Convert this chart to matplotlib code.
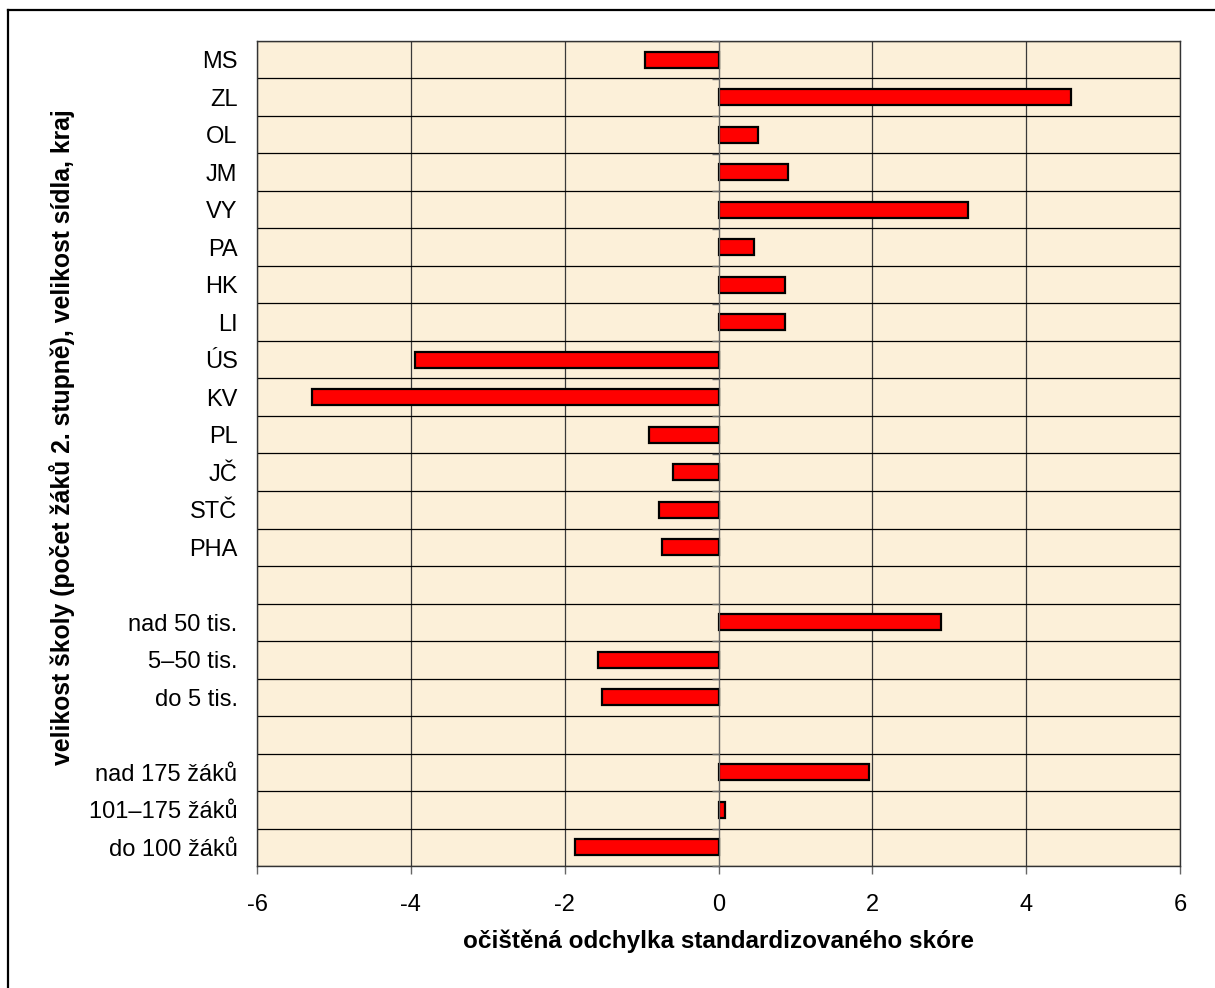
import numpy as np
import matplotlib
matplotlib.use("Agg")
import matplotlib.pyplot as plt
from matplotlib.lines import Line2D

plt.rcParams['font.family'] = ['Liberation Sans', 'DejaVu Sans']

# kraje
kraje = ['MS', 'ZL', 'OL', 'JM', 'VY', 'PA', 'HK', 'LI', 'ÚS', 'KV', 'PL', 'JČ', 'STČ', 'PHA']
kraje_val = [-0.95, 4.58, 0.52, 0.91, 3.25, 0.46, 0.87, 0.87, -3.95, -5.28, -0.91, -0.59, -0.78, -0.74]

# velikost sídla
sidla = ['nad 50 tis.', '5–50 tis.', 'do 5 tis.']
sidla_val = [2.89, -1.57, -1.51]

# velikost školy
skoly = ['nad 175 žáků', '101–175 žáků', 'do 100 žáků']
skoly_val = [1.96, 0.09, -1.87]

xticks = [-6, -4, -2, 0, 2, 4, 6]

# skupiny oddělené prázdným řádkem
labels = kraje + [''] + sidla + [''] + skoly
values = kraje_val + [np.nan] + sidla_val + [np.nan] + skoly_val
pos = np.arange(len(labels))

fig = plt.figure(figsize=(12.15, 9.88), dpi=100)
ax = fig.add_axes([257 / 1215, 1 - 866 / 988, 923 / 1215, 825 / 988])
ax.set_facecolor('#fcf0d9')

ax.barh(pos, values, height=0.42, color='#ff0000', edgecolor='black', linewidth=1.6, zorder=3)

ax.set_xlim(-6, 6)
ax.set_ylim(len(labels) - 0.5, -0.5)
ax.set_xticks(xticks)
ax.set_xticklabels([str(t) for t in xticks])
ax.set_yticks(pos)
ax.set_yticklabels(labels)
ax.set_yticks(np.arange(len(labels) + 1) - 0.5, minor=True)

ax.tick_params(axis='x', length=6, width=1, color='#666666', labelsize=17, pad=14)
ax.tick_params(axis='y', which='both', length=0, labelsize=17, pad=14)
ax.grid(True, axis='x', which='major', color='#3a3a3a', linewidth=0.9)
ax.grid(True, axis='y', which='minor', color='black', linewidth=0.9)
ax.set_axisbelow(True)
for s in ax.spines.values():
    s.set_color('#333333')
    s.set_linewidth(1.0)

# svislá osa v nule s čárkami na hranicích řádků
ax2 = ax.twinx()
ax2.set_ylim(ax.get_ylim())
ax2.yaxis.tick_left()
ax2.spines['left'].set_position(('data', 0))
ax2.spines['left'].set_color('#666666')
for side in ['right', 'top', 'bottom']:
    ax2.spines[side].set_visible(False)
ax2.set_yticks(np.arange(len(labels) + 1) - 0.5)
ax2.set_yticklabels([])
ax2.tick_params(axis='y', length=5, width=1, color='#666666')

ax.set_xlabel('očištěná odchylka standardizovaného skóre', fontsize=17.5,
              fontweight='bold', labelpad=10)
fig.text(62 / 1215, 1 - 437 / 988, 'velikost školy (počet žáků 2. stupně), velikost sídla, kraj',
         rotation=90, ha='center', va='center', fontsize=17.8, fontweight='bold')

# rámeček kolem grafu
fig.add_artist(Line2D([8 / 1215, 8 / 1215], [0, 1 - 10 / 988], color='black', linewidth=1.6))
fig.add_artist(Line2D([8 / 1215, 1], [1 - 10 / 988, 1 - 10 / 988], color='black', linewidth=1.6))

fig.savefig('out.png', dpi=100, facecolor='white')
